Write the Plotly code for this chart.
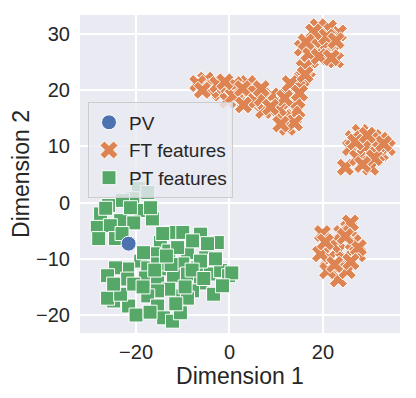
import plotly.graph_objects as go

# t-SNE embedding
pv_x = [-21.6]
pv_y = [-7.3]

ft_x = [-5.1, -6.8, -3.4, 0.2, -1.9, 2.4, 3.9, 3.9, 6.2, 5.1, 8.1, 9.8, 7.3, 12.4, 12.6, 10.9,
        13.7, 12.4, 14.5, 1.3, -0.4, 15.6, 14.5, 16.7, 17.3, 15.6, 17.8, 19.9, 22.2, 20.1, 23.3,
        18.8, 21.2, 22.7, 19.0, 13.0, 14.5, -4.0, 1.0, 4.8, 9.0, 11.5, 16.0, 21.0, 18.0,
        -2.5, -5.8, 0.8, 2.8, 5.5, 7.0, 10.5, 11.8, 13.9, 15.0, 16.2, 17.0, 19.2, 20.8, 22.8,
        18.0, 21.8, 16.4, 11.0, 8.8, 6.8, 3.0, -1.0,
        28.0, 30.2, 28.0, 25.9, 32.3, 24.8, 29.1, 33.8, 30.8, 27.4, 30.2, 26.5, 32.3, 29.0, 31.5,
        27.0, 31.0, 33.0, 29.5, 28.5,
        19.9, 22.2, 25.5, 23.1, 26.5, 27.4, 21.2, 24.4, 23.1, 23.3, 19.5, 21.0, 25.2, 25.9, 27.6,
        22.0, 24.0, 22.5, 24.8, 26.0, 20.5]
ft_y = [21.8, 21.2, 20.5, 20.0, 19.5, 19.5, 18.8, 21.2, 19.1, 17.7, 18.2, 17.7, 16.4, 19.1, 17.7, 16.4,
        15.2, 13.4, 16.4, 18.2, 18.2, 22.1, 20.5, 23.6, 25.4, 27.5, 27.7, 26.6, 27.1, 30.2, 30.2,
        28.9, 31.1, 25.4, 31.3, 21.2, 18.2, 20.0, 21.0, 20.0, 19.0, 15.0, 24.0, 28.5, 29.0,
        21.0, 20.0, 19.0, 20.3, 18.0, 18.6, 16.8, 18.6, 14.2, 19.5, 22.8, 26.5, 26.0, 29.5, 28.8,
        30.4, 25.8, 28.6, 14.0, 17.0, 20.3, 17.4, 21.5,
        12.5, 10.5, 9.6, 9.8, 8.8, 6.3, 7.5, 9.8, 11.6, 8.0, 6.3, 11.4, 11.1, 10.0, 8.5,
        10.8, 8.0, 10.5, 12.0, 6.8,
        -5.5, -6.8, -4.6, -8.6, -7.1, -9.1, -10.0, -10.0, -11.6, -13.6, -9.1, -12.1, -12.1, -3.6, -8.0,
        -7.5, -5.5, -11.0, -6.0, -10.5, -7.0]

pt_x = [-19.5, -17.5, -20.7, -19.0, -27.6, -25.9, -23.3, -28.3, -25.5, -24.4, -28.0, -16.5, -16.9,
        -20.5, -22.9, -21.2, -12.6, -10.0, -6.2, -2.6, -14.8, -13.0, -16.3, -19.0, -9.0, -5.1, -6.8,
        -10.0, -13.7, -17.5, -21.8, -24.4, -26.1, -21.8, -18.0, -15.4, -12.0, -9.0, -6.2, -4.1, -1.9,
        -0.2, -3.4, -7.9, -10.9, -13.0, -15.4, -17.5, -15.4, -21.6, -24.8, -26.1, -23.3, -14.1, -12.2,
        -10.5, -9.0, -20.5, -24.8, -6.2, -11.1, -15.4, -18.4, -4.7, -7.9, -14.3, -26.5, -23.0, -18.5,
        -11.5, -8.0, -3.0, -20.0, -16.0, -12.5, 0.5, -1.5, -5.5, -9.5, -13.5, -17.0]
pt_y = [2.5, 1.8, 0.7, -1.4, -2.0, -0.5, -3.2, -4.4, -4.1, -6.4, -6.4, -2.9, -0.9,
        -3.6, 0.4, -0.9, -5.3, -5.3, -5.6, -7.1, -7.1, -8.6, -9.1, -10.4, -8.9, -9.8, -11.6,
        -10.9, -11.8, -11.6, -11.8, -11.6, -13.0, -13.6, -13.4, -14.3, -13.0, -12.7, -14.3, -12.7, -12.1,
        -13.0, -16.3, -15.7, -16.6, -15.4, -15.7, -16.6, -18.4, -18.4, -17.5, -17.0, -16.3, -20.5, -21.1,
        -19.6, -17.0, -14.5, -14.5, -10.4, -8.0, -10.9, -8.9, -7.3, -6.8, -5.5, -1.0, -5.5, -15.0,
        -18.0, -12.0, -10.0, -20.0, -12.0, -11.0, -12.5, -14.8, -13.5, -15.0, -9.5, -19.5]

fig = go.Figure()
fig.add_trace(go.Scatter(x=ft_x, y=ft_y, mode='markers', name='FT features', legendrank=2,
                         marker=dict(symbol='x', size=16, color='#DD8452',
                                     line=dict(color='white', width=1))))
fig.add_trace(go.Scatter(x=pt_x, y=pt_y, mode='markers', name='PT features', legendrank=3,
                         marker=dict(symbol='square', size=14, color='#55A868',
                                     line=dict(color='white', width=1))))
fig.add_trace(go.Scatter(x=pv_x, y=pv_y, mode='markers', name='PV', legendrank=1,
                         marker=dict(symbol='circle', size=15, color='#4C72B0',
                                     line=dict(color='white', width=1))))

axis = dict(showgrid=True, gridcolor='white', gridwidth=1.5, zeroline=False,
            showline=False, ticks='', automargin=False,
            tickfont=dict(size=20, color='#262626'))
# page body adds an 8px margin, so the figure is 400x382 to fill the 416x398 window
fig.update_layout(
    width=400, height=382,
    margin=dict(l=72, r=8, t=7, b=57),
    paper_bgcolor='white', plot_bgcolor='#EAEAF2',
    font=dict(family='Arial, Liberation Sans, sans-serif', color='#262626'),
    xaxis=dict(axis, range=[-32, 36.5], tickvals=[-20, 0, 20], ticklabelstandoff=5,
               title=dict(text='Dimension 1', font=dict(size=23), standoff=0)),
    yaxis=dict(axis, range=[-23.2, 33.4], tickvals=[-20, -10, 0, 10, 20, 30], ticklabelstandoff=9,
               title=dict(text='Dimension 2', font=dict(size=23), standoff=0)),
    legend=dict(x=0.025, y=0.725, xanchor='left', yanchor='top',
                bgcolor='rgba(234,234,242,0.8)', bordercolor='#CCCCCC', borderwidth=1,
                font=dict(size=19)),
    showlegend=True,
)
fig.write_html("out.html")
